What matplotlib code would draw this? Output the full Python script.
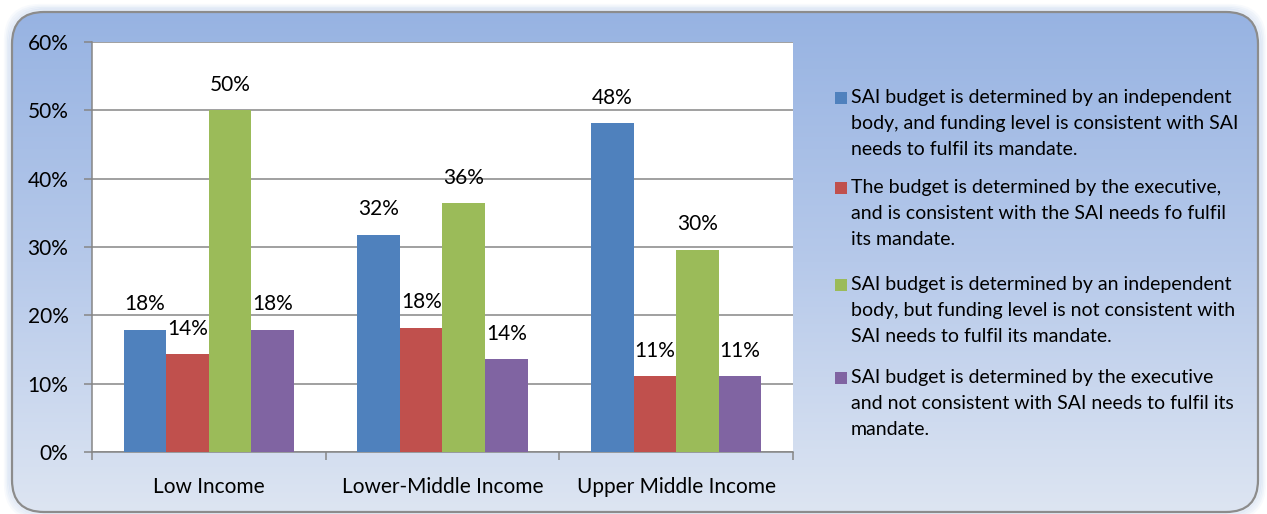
import matplotlib.pyplot as plt
import numpy as np
from matplotlib.patches import FancyBboxPatch, Rectangle
from matplotlib.colors import LinearSegmentedColormap

plt.rcParams['font.family'] = ['Lato', 'DejaVu Sans']

categories = ['Low Income', 'Lower-Middle Income', 'Upper Middle Income']
series_labels = [
    'SAI budget is determined by an independent\nbody, and funding level is consistent with SAI\nneeds to fulfil its mandate.',
    'The budget is determined by the executive,\nand is consistent with the SAI needs fo fulfil\nits mandate.',
    'SAI budget is determined by an independent\nbody, but funding level is not consistent with\nSAI needs to fulfil its mandate.',
    'SAI budget is determined by the executive\nand not consistent with SAI needs to fulfil its\nmandate.',
]
indep_consistent = [0.179, 0.318, 0.481]
exec_consistent = [0.143, 0.182, 0.111]
indep_not_consistent = [0.500, 0.364, 0.296]
exec_not_consistent = [0.179, 0.136, 0.111]
series = [indep_consistent, exec_consistent, indep_not_consistent, exec_not_consistent]
colors = ['#4F81BD', '#C0504D', '#9BBB59', '#8064A2']
y_ticks = [0, 0.1, 0.2, 0.3, 0.4, 0.5, 0.6]

W, H = 1267, 514
fig = plt.figure(figsize=(W / 100, H / 100), dpi=100)
fig.patch.set_facecolor('white')

# background panel with gradient and rounded border
bg = fig.add_axes([0, 0, 1, 1], zorder=-2)
bg.set_xlim(0, W)
bg.set_ylim(0, H)
bg.axis('off')
for i, a in enumerate([0.06, 0.08, 0.1, 0.14]):
    glow = FancyBboxPatch((12 - 6 + i * 1.5, 2 - 6 + i * 1.5), 1246 + 12 - i * 3, 500 + 12 - i * 3,
                          boxstyle='round,pad=0,rounding_size=34', fc='none',
                          ec='#8FB0E0', lw=3, alpha=a)
    bg.add_patch(glow)
frame = FancyBboxPatch((12, 2), 1246, 500, boxstyle='round,pad=0,rounding_size=32',
                       fc='none', ec='#8C8C8C', lw=1.6, zorder=3)
bg.add_patch(frame)
cmap = LinearSegmentedColormap.from_list('bgfade', ['#DDE5F2', '#B6C9EA', '#97B3E2'])
grad = np.linspace(0, 1, 256).reshape(-1, 1)
im = bg.imshow(grad, aspect='auto', cmap=cmap, origin='lower', extent=(12, 1258, 2, 502), zorder=1)
im.set_clip_path(frame)

# plot area
ax = fig.add_axes([92 / W, 1 - 452 / H, (793 - 92) / W, (452 - 42) / H])
ax.set_facecolor('white')
x = np.arange(len(categories))
bw = 0.182
for k, (vals, col) in enumerate(zip(series, colors)):
    pos = x + (k - 1.5) * bw
    bars = ax.bar(pos, vals, width=bw, color=col, zorder=3)
    ax.bar_label(bars, labels=[f'{v * 100:.0f}%' for v in vals], padding=11,
                 fontsize=15, color='black')

ax.set_xlim(-0.5, 2.5)
ax.set_ylim(0, 0.6)
ax.set_yticks(y_ticks)
ax.set_yticklabels([f'{t * 100:.0f}%' for t in y_ticks], fontsize=15)
ax.yaxis.grid(True, color='#868686', lw=1.1, zorder=0)
ax.set_xticks(x)
ax.set_xticklabels(categories, fontsize=15)
ax.set_xticks([-0.5, 0.5, 1.5, 2.5], minor=True)
ax.tick_params(axis='x', which='major', length=0, pad=18)
ax.tick_params(axis='x', which='minor', length=6, color='#868686', width=1.1, direction='out')
ax.tick_params(axis='y', length=6, color='#868686', width=1.1, pad=11)
for s in ['top', 'right']:
    ax.spines[s].set_visible(False)
for s in ['left', 'bottom']:
    ax.spines[s].set_color('#868686')
    ax.spines[s].set_linewidth(1.1)

# legend
entry_tops = [98, 188, 285, 378]
for lab, col, yt in zip(series_labels, colors, entry_tops):
    fig.add_artist(Rectangle((835 / W, 1 - (yt + 6) / H), 12 / W, 12 / H,
                             transform=fig.transFigure, fc=col, ec='none'))
    fig.text(851 / W, 1 - (yt - 9) / H, lab, fontsize=14, va='top', ha='left',
             linespacing=1.64)

fig.savefig('out.png', dpi=100)
